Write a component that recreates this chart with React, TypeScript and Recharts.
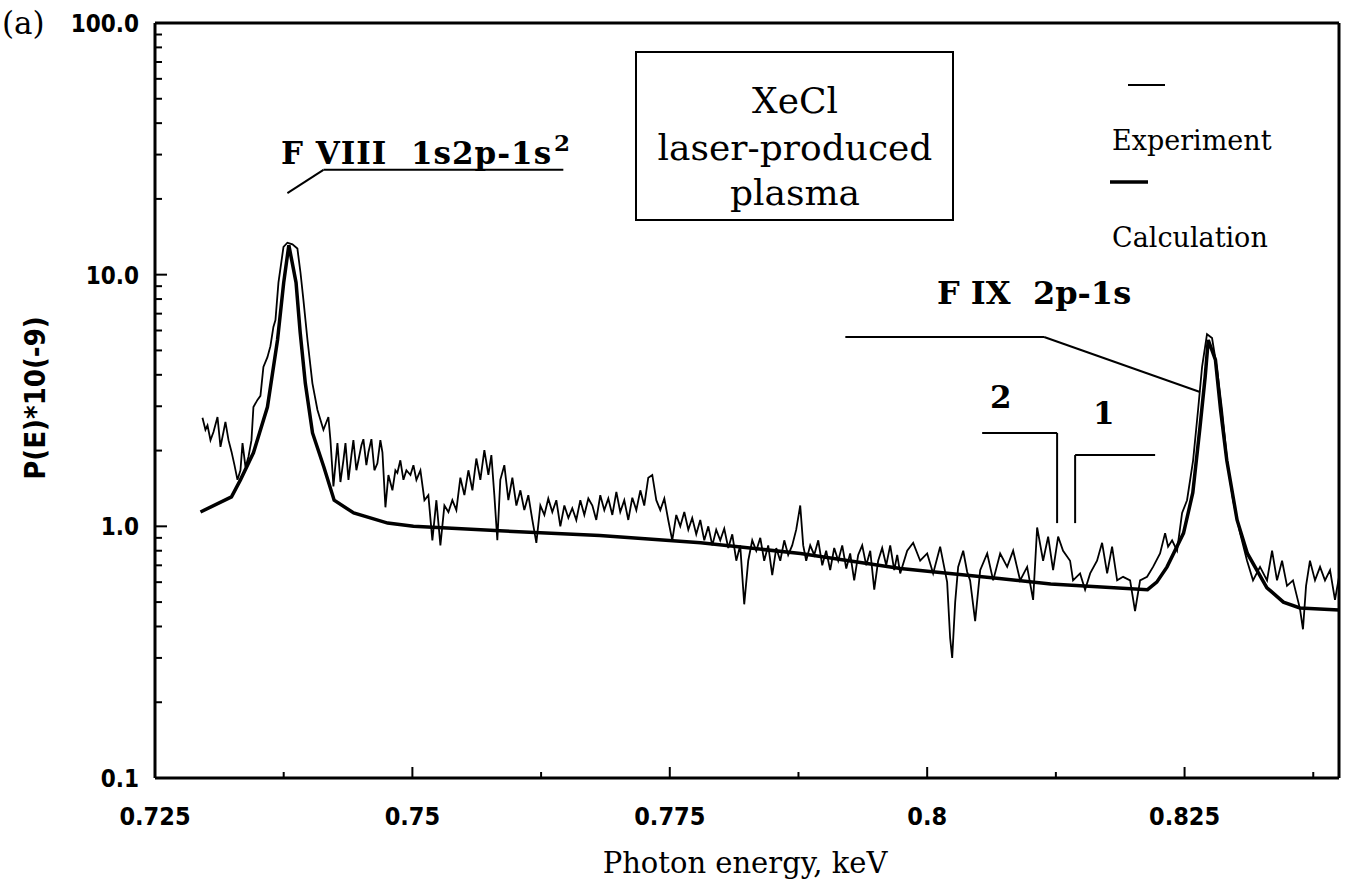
import React from 'react';
import { LineChart, Line, XAxis, YAxis, ReferenceLine } from 'recharts';

// photon energy (keV) vs P(E)*1e-9
const experimentPoints: [number, number][] = [
  [0.72961, 2.70], [0.72990, 2.42], [0.73010, 2.52], [0.73039, 2.20], [0.73068, 2.37], [0.73107, 2.72], [0.73136, 2.07], [0.73165, 2.37], [0.73184, 2.60], [0.73214, 2.20],
  [0.73243, 1.98], [0.73272, 1.75], [0.73301, 1.53], [0.73330, 1.67], [0.73350, 2.14], [0.73379, 1.72], [0.73408, 1.89], [0.73437, 2.20], [0.73456, 2.98], [0.73495, 3.18],
  [0.73524, 3.30], [0.73553, 4.30], [0.73592, 4.70], [0.73621, 5.20], [0.73650, 6.20], [0.73670, 6.60], [0.73699, 9.30], [0.73748, 12.9], [0.73786, 13.4], [0.73835, 13.2],
  [0.73883, 12.7], [0.73913, 10.2], [0.73942, 7.9], [0.73981, 5.5], [0.74029, 3.7], [0.74078, 2.9], [0.74136, 2.42], [0.74184, 2.72], [0.74204, 2.20], [0.74233, 1.44],
  [0.74272, 2.14], [0.74301, 1.50], [0.74330, 1.83], [0.74350, 2.14], [0.74379, 1.53], [0.74408, 1.92], [0.74427, 2.20], [0.74456, 1.67], [0.74476, 1.83], [0.74505, 2.10],
  [0.74524, 2.22], [0.74553, 1.75], [0.74573, 1.97], [0.74602, 2.22], [0.74631, 1.67], [0.74660, 1.78], [0.74689, 2.20], [0.74709, 1.97], [0.74738, 1.19], [0.74767, 1.60],
  [0.74806, 1.39], [0.74835, 1.67], [0.74854, 1.63], [0.74883, 1.83], [0.74913, 1.53], [0.74942, 1.67], [0.74981, 1.60], [0.75010, 1.75], [0.75039, 1.53],
  [0.75078, 1.67], [0.75117, 1.27], [0.75155, 1.33], [0.75194, 0.88], [0.75233, 1.27], [0.75272, 0.84], [0.75311, 1.21], [0.75350, 1.14], [0.75388, 1.27], [0.75427, 1.16],
  [0.75466, 1.56], [0.75505, 1.33], [0.75544, 1.67], [0.75583, 1.39], [0.75621, 1.86], [0.75660, 1.53], [0.75699, 2.01], [0.75738, 1.60], [0.75767, 1.92], [0.75796, 1.33],
  [0.75825, 0.88], [0.75854, 1.53], [0.75893, 1.75], [0.75932, 1.27], [0.75971, 1.56], [0.76010, 1.21], [0.76049, 1.39], [0.76087, 1.16], [0.76126, 1.33], [0.76165, 1.06],
  [0.76204, 0.86], [0.76243, 1.21], [0.76282, 1.11], [0.76320, 1.29], [0.76359, 1.14], [0.76398, 1.27], [0.76437, 1.00], [0.76476, 1.21], [0.76515, 1.08], [0.76553, 1.18],
  [0.76592, 1.06], [0.76631, 1.27], [0.76670, 1.11], [0.76709, 1.29], [0.76748, 1.21], [0.76786, 1.06], [0.76825, 1.33], [0.76864, 1.16], [0.76903, 1.29], [0.76942, 1.11],
  [0.76981, 1.37], [0.77019, 1.14], [0.77058, 1.27], [0.77097, 1.06], [0.77136, 1.30], [0.77175, 1.16], [0.77214, 1.39], [0.77252, 1.21], [0.77291, 1.56], [0.77330, 1.60],
  [0.77369, 1.27],
  [0.77408, 1.16], [0.77447, 1.29], [0.77485, 1.06], [0.77524, 0.88], [0.77563, 1.11], [0.77602, 1.00], [0.77641, 1.14], [0.77680, 0.97], [0.77718, 1.08], [0.77757, 0.93],
  [0.77796, 1.06], [0.77835, 0.88], [0.77874, 1.00], [0.77913, 0.84], [0.77951, 0.97], [0.77990, 0.88], [0.78029, 0.98], [0.78068, 0.82], [0.78107, 0.93], [0.78146, 0.73],
  [0.78184, 0.84], [0.78223, 0.49], [0.78262, 0.73], [0.78301, 0.88], [0.78340, 0.80], [0.78379, 0.90], [0.78417, 0.73], [0.78456, 0.84], [0.78495, 0.64], [0.78534, 0.82],
  [0.78573, 0.73], [0.78612, 0.88], [0.78650, 0.77], [0.78689, 0.84], [0.78728, 0.97], [0.78767, 1.21], [0.78796, 0.84], [0.78825, 0.73], [0.78864, 0.84], [0.78903, 0.77],
  [0.78942, 0.88], [0.78981, 0.70], [0.79019, 0.80], [0.79058, 0.67], [0.79097, 0.82], [0.79136, 0.73], [0.79175, 0.84], [0.79214, 0.68], [0.79252, 0.78], [0.79291, 0.61],
  [0.79330, 0.77], [0.79369, 0.84], [0.79408, 0.70], [0.79447, 0.80], [0.79486, 0.56], [0.79524, 0.73], [0.79563, 0.82], [0.79602, 0.70], [0.79641, 0.84], [0.79680, 0.67],
  [0.79709, 0.77],
  [0.79738, 0.65], [0.79806, 0.80], [0.79864, 0.86], [0.79932, 0.73], [0.80000, 0.78], [0.80058, 0.65], [0.80126, 0.83], [0.80194, 0.60], [0.80223, 0.36], [0.80243, 0.30],
  [0.80272, 0.50], [0.80301, 0.69], [0.80350, 0.80], [0.80388, 0.66], [0.80417, 0.61], [0.80466, 0.42], [0.80515, 0.67], [0.80583, 0.78], [0.80641, 0.61], [0.80709, 0.78],
  [0.80777, 0.69], [0.80835, 0.80], [0.80903, 0.61], [0.80971, 0.69], [0.81029, 0.51], [0.81068, 0.99], [0.81126, 0.73], [0.81175, 0.91], [0.81223, 0.67], [0.81272, 0.91],
  [0.81320, 0.80], [0.81388, 0.73], [0.81417, 0.61], [0.81485, 0.65], [0.81534, 0.56], [0.81583, 0.65], [0.81650, 0.73], [0.81699, 0.86], [0.81748, 0.65], [0.81796, 0.83],
  [0.81845, 0.61], [0.81903, 0.63], [0.81971, 0.61], [0.82019, 0.46], [0.82068, 0.61], [0.82136, 0.63], [0.82194, 0.69], [0.82262, 0.78], [0.82311, 0.94], [0.82340, 0.83],
  [0.82379, 0.88], [0.82427, 0.80], [0.82476, 1.13], [0.82524, 1.27], [0.82583, 1.83], [0.82631, 2.90], [0.82670, 4.30], [0.82718, 5.80], [0.82767, 5.60], [0.82816, 4.20],
  [0.82864, 2.90], [0.82913, 1.83], [0.82971, 1.27], [0.83039, 0.94], [0.83107, 0.73], [0.83165, 0.61], [0.83233, 0.69], [0.83301, 0.61], [0.83350, 0.80], [0.83398, 0.61],
  [0.83447, 0.73], [0.83495, 0.58], [0.83553, 0.61], [0.83621, 0.47], [0.83650, 0.39], [0.83680, 0.58], [0.83718, 0.73], [0.83767, 0.61], [0.83816, 0.69], [0.83864, 0.61],
  [0.83913, 0.67], [0.83961, 0.51], [0.84000, 0.63],
];

const calculationPoints: [number, number][] = [
  [0.72942, 1.14], [0.73243, 1.31], [0.73330, 1.53], [0.73456, 1.96], [0.73592, 2.98], [0.73690, 5.5], [0.73750, 9.3], [0.73800, 13.1],
  [0.73870, 9.3], [0.73910, 5.9], [0.73960, 3.7], [0.74030, 2.35], [0.74140, 1.72], [0.74240, 1.27], [0.74430, 1.13], [0.74760, 1.03],
  [0.75010, 1.0], [0.75850, 0.96], [0.76820, 0.92], [0.77800, 0.86], [0.78770, 0.78], [0.79740, 0.68], [0.80700, 0.62], [0.81200, 0.59],
  [0.82140, 0.56], [0.82230, 0.60], [0.82330, 0.69], [0.82490, 0.94], [0.82580, 1.36], [0.82650, 2.48], [0.82700, 3.92], [0.82730, 5.5],
  [0.82800, 4.58], [0.82850, 2.90], [0.82910, 1.83], [0.83010, 1.06], [0.83110, 0.78], [0.83300, 0.57], [0.83460, 0.50], [0.83620, 0.474],
  [0.84000, 0.465],
];

const xMajorTicks = [0.725, 0.75, 0.775, 0.8, 0.825];
const xMinorTicks = [0.7375, 0.7625, 0.7875, 0.8125, 0.8375];
const yMajorTicks = [0.1, 1, 10, 100];
const yMinorTicks = [0.2, 0.3, 0.4, 0.5, 0.6, 0.7, 0.8, 0.9, 2, 3, 4, 5, 6, 7, 8, 9, 20, 30, 40, 50, 60, 70, 80, 90];

// leader lines of the annotations, in data units
const fviiiLeader = [{ x: 0.73786, y: 21.1 }, { x: 0.74136, y: 26.1 }, { x: 0.76466, y: 26.1 }];
const fixLeader = [{ x: 0.79205, y: 5.65 }, { x: 0.81136, y: 5.65 }, { x: 0.8265, y: 3.42 }];
const bracket2 = [{ x: 0.80534, y: 2.35 }, { x: 0.81262, y: 2.35 }, { x: 0.81262, y: 1.03 }];
const bracket1 = [{ x: 0.81437, y: 1.03 }, { x: 0.81437, y: 1.92 }, { x: 0.82214, y: 1.92 }];

const expData = experimentPoints.map(([x, y]) => ({ x, y }));
const calcData = calculationPoints.map(([x, y]) => ({ x, y }));

const sansNarrow = "'DejaVu Sans Condensed', 'DejaVu Sans', sans-serif";
const serif = "'DejaVu Serif', 'Liberation Serif', serif";

const isMajor = (list: number[], v: number) => list.some((t) => Math.abs(t - v) < 1e-6);

const XTick = (props: any) => {
  const { x, y, payload } = props;
  const major = isMajor(xMajorTicks, payload.value);
  return (
    <g>
      <line x1={x} x2={x} y1={y} y2={y - (major ? 11 : 6)} stroke="#000" strokeWidth={2} />
      {major && (
        <text x={x} y={y + 47} textAnchor="middle" fontFamily={sansNarrow} fontWeight={600} fontSize={25} fill="#000" style={{ fontStretch: 'condensed' }}>
          {String(payload.value)}
        </text>
      )}
    </g>
  );
};

const YTick = (props: any) => {
  const { x, y, payload } = props;
  const major = isMajor(yMajorTicks, payload.value);
  return (
    <g>
      <line x1={x} x2={x + (major ? 12 : 7)} y1={y} y2={y} stroke="#000" strokeWidth={2} />
      {major && (
        <text x={x - 16} y={y + 9} textAnchor="end" fontFamily={sansNarrow} fontWeight={600} fontSize={24} fill="#000" style={{ fontStretch: 'condensed' }}>
          {payload.value.toFixed(1)}
        </text>
      )}
    </g>
  );
};

const polyline = (pts: { x: number; y: number }[], key: string) =>
  pts.slice(1).map((p, i) => (
    <ReferenceLine key={key + i} segment={[pts[i], p]} stroke="#000" strokeWidth={2} ifOverflow="visible" />
  ));

export default function App() {
  return (
    <div style={{ position: 'absolute', left: 0, top: 0, width: 1352, height: 889, background: '#fff' }}>
      <LineChart width={1352} height={889} margin={{ top: 23, right: 13, left: 0, bottom: 51 }}>
        <XAxis
          type="number"
          dataKey="x"
          domain={[0.725, 0.84]}
          allowDataOverflow
          ticks={[...xMajorTicks, ...xMinorTicks].sort((a, b) => a - b)}
          interval={0}
          tickSize={0}
          tickMargin={0}
          tickLine={false}
          tick={<XTick />}
          axisLine={{ stroke: '#000', strokeWidth: 3 }}
          height={60}
        />
        <YAxis
          type="number"
          scale="log"
          domain={[0.1, 100]}
          allowDataOverflow
          ticks={[...yMajorTicks, ...yMinorTicks].sort((a, b) => a - b)}
          interval={0}
          tickSize={0}
          tickMargin={0}
          tickLine={false}
          tick={<YTick />}
          axisLine={{ stroke: '#000', strokeWidth: 3 }}
          width={155}
        />
        <ReferenceLine y={100} stroke="#000" strokeWidth={3} />
        <ReferenceLine x={0.84} stroke="#000" strokeWidth={3} />
        {polyline(fviiiLeader, 'f8')}
        {polyline(fixLeader, 'f9')}
        {polyline(bracket2, 'b2')}
        {polyline(bracket1, 'b1')}
        <Line data={expData} dataKey="y" type="linear" stroke="#000" strokeWidth={1.8} dot={false} isAnimationActive={false} name="Experiment" />
        <Line data={calcData} dataKey="y" type="linear" stroke="#000" strokeWidth={3.5} dot={false} isAnimationActive={false} name="Calculation" />
      </LineChart>
      <svg width={1352} height={889} style={{ position: 'absolute', left: 0, top: 0, pointerEvents: 'none' }}>
        <text x={2} y={34} fontFamily={serif} fontSize={31}>(a)</text>
        <text x={35} y={398} transform="rotate(-90 35 398)" textAnchor="middle" dominantBaseline="central" fontFamily={sansNarrow} fontWeight={600} fontSize={29} style={{ fontStretch: 'condensed' }}>
          P(E)*10(-9)
        </text>
        <text x={745} y={873} textAnchor="middle" fontFamily={serif} fontSize={29}>Photon energy, keV</text>

        <text x={281} y={164} fontFamily={serif} fontWeight="bold" fontSize={31} letterSpacing={1} xmlSpace="preserve">F VIII  1s2p-1s</text>
        <text x={554} y={151} fontFamily={serif} fontWeight="bold" fontSize={23}>2</text>

        <rect x={636} y={52} width={317} height={168} fill="none" stroke="#000" strokeWidth={2} />
        <text x={795} y={113} textAnchor="middle" fontFamily={serif} fontSize={36}>XeCl</text>
        <text x={795} y={160} textAnchor="middle" fontFamily={serif} fontSize={36}>laser-produced</text>
        <text x={795} y={205} textAnchor="middle" fontFamily={serif} fontSize={36}>plasma</text>

        <line x1={1128} x2={1165} y1={85} y2={85} stroke="#000" strokeWidth={2} />
        <text x={1112} y={150} fontFamily={serif} fontSize={27}>Experiment</text>
        <line x1={1110} x2={1148} y1={182} y2={182} stroke="#000" strokeWidth={3.5} />
        <text x={1112} y={247} fontFamily={serif} fontSize={27}>Calculation</text>

        <text x={937} y={304} fontFamily={serif} fontWeight="bold" fontSize={32} xmlSpace="preserve">F IX  2p-1s</text>
        <text x={990} y={408} fontFamily={serif} fontWeight="bold" fontSize={31}>2</text>
        <text x={1093} y={424} fontFamily={serif} fontWeight="bold" fontSize={31}>1</text>
      </svg>
    </div>
  );
}
